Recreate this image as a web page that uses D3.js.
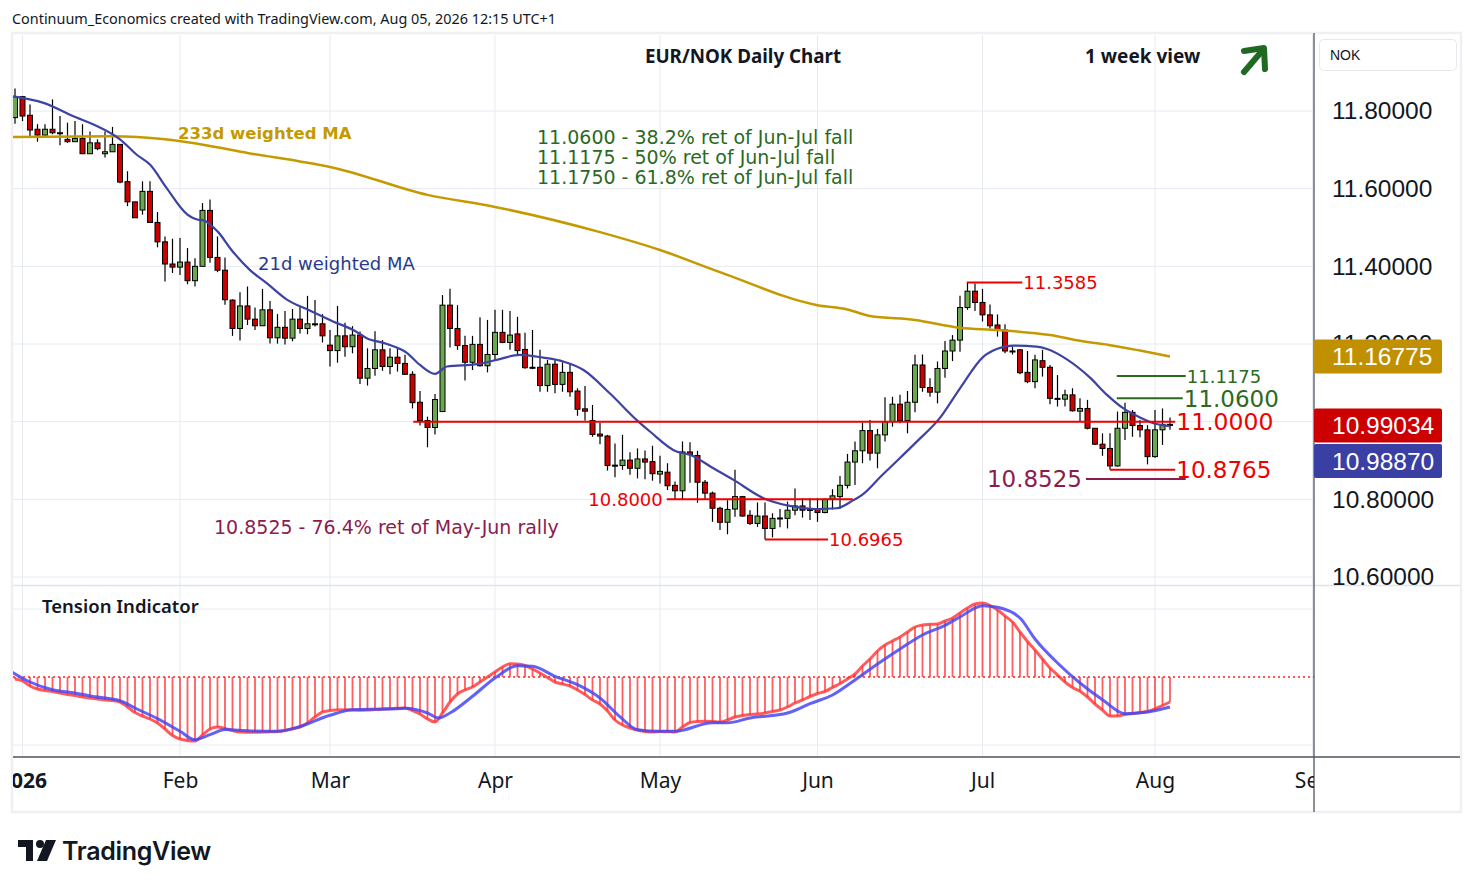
<!DOCTYPE html>
<html>
<head>
<meta charset="utf-8">
<script src="https://cdn.jsdelivr.net/npm/d3@7"></script>
<style>
  body { margin: 0; background: #fff; }
  svg { display: block; }
</style>
</head>
<body>
<svg id="chart" width="1474" height="887"></svg>
<script>
// ---- data (bar index 0 = 31 Dec 2025, last = 05 Aug 2026) ----
const opens = [11.783,11.837,11.789,11.753,11.738,11.753,11.744,11.727,11.721,11.729,
  11.690,11.718,11.690,11.695,11.714,11.618,11.566,11.545,11.593,11.513,
  11.463,11.406,11.398,11.411,11.363,11.400,11.544,11.423,11.390,11.313,
  11.240,11.298,11.264,11.247,11.288,11.216,11.243,11.215,11.264,11.240,
  11.251,11.252,11.197,11.183,11.221,11.193,11.223,11.112,11.137,11.185,
  11.142,11.166,11.150,11.122,11.050,11.003,10.985,11.026,11.300,11.240,
  11.196,11.153,11.199,11.144,11.173,11.230,11.204,11.226,11.186,11.140,
  11.140,11.093,11.148,11.096,11.127,11.079,11.033,11.003,10.968,10.963,
  10.888,10.887,10.901,10.880,10.904,10.897,10.865,10.870,10.836,10.822,
  10.922,10.913,10.844,10.816,10.777,10.741,10.775,10.807,10.759,10.738,
  10.757,10.725,10.751,10.751,10.772,10.783,10.774,10.775,10.766,10.800,
  10.807,10.836,10.896,10.925,10.977,10.919,10.966,11.000,11.045,11.003,
  11.050,11.146,11.088,11.076,11.137,11.182,11.210,11.294,11.336,11.307,
  11.275,11.249,11.236,11.182,11.185,11.127,11.103,11.157,11.140,11.060,
  11.058,11.069,11.027,11.034,10.983,10.942,10.931,10.886,10.983,11.024,
  10.990,10.979,10.910,10.979,10.993];
const highs = [11.858,11.839,11.817,11.766,11.766,11.830,11.787,11.770,11.774,11.766,
  11.747,11.727,11.747,11.759,11.714,11.645,11.566,11.619,11.619,11.540,
  11.477,11.471,11.473,11.447,11.421,11.563,11.572,11.477,11.423,11.315,
  11.333,11.348,11.294,11.342,11.311,11.277,11.285,11.290,11.296,11.324,
  11.313,11.277,11.236,11.298,11.255,11.246,11.232,11.189,11.233,11.210,
  11.189,11.191,11.172,11.130,11.079,11.013,11.071,11.326,11.342,11.300,
  11.221,11.221,11.269,11.262,11.288,11.288,11.285,11.270,11.229,11.236,
  11.185,11.159,11.159,11.153,11.150,11.086,11.092,11.043,10.997,10.966,
  10.944,10.966,10.921,10.931,10.926,10.938,10.912,10.893,10.846,10.949,
  10.947,10.925,10.850,10.820,10.781,10.798,10.876,10.809,10.772,10.792,
  10.792,10.764,10.775,10.794,10.828,10.803,10.803,10.803,10.802,10.826,
  10.860,10.917,10.949,10.998,11.004,10.981,11.063,11.064,11.069,11.079,
  11.172,11.173,11.112,11.155,11.208,11.223,11.324,11.3585,11.356,11.342,
  11.302,11.276,11.251,11.193,11.187,11.182,11.172,11.185,11.146,11.120,
  11.082,11.086,11.060,11.056,10.983,10.970,10.970,11.026,11.049,11.030,
  11.004,10.991,11.030,11.034,11.011];
const lows = [11.767,11.774,11.735,11.721,11.735,11.740,11.712,11.718,11.721,11.690,
  11.690,11.699,11.680,11.695,11.614,11.555,11.525,11.533,11.513,11.449,
  11.361,11.383,11.378,11.354,11.348,11.400,11.409,11.385,11.301,11.221,
  11.209,11.249,11.236,11.247,11.201,11.201,11.199,11.207,11.227,11.225,
  11.245,11.204,11.142,11.152,11.167,11.176,11.097,11.093,11.118,11.131,
  11.122,11.129,11.120,11.034,10.990,10.934,10.967,11.026,11.191,11.185,
  11.106,11.133,11.142,11.127,11.159,11.202,11.185,11.172,11.136,11.135,
  11.077,11.077,11.073,11.077,11.064,11.015,11.003,10.961,10.942,10.874,
  10.857,10.876,10.863,10.854,10.852,10.848,10.841,10.824,10.798,10.798,
  10.843,10.791,10.798,10.742,10.721,10.710,10.755,10.755,10.734,10.729,
  10.6965,10.702,10.728,10.725,10.759,10.753,10.747,10.742,10.764,10.774,
  10.776,10.828,10.837,10.893,10.900,10.880,10.949,10.987,10.996,10.970,
  11.024,11.077,11.064,11.047,11.113,11.156,11.180,11.288,11.285,11.258,
  11.240,11.219,11.176,11.173,11.122,11.099,11.086,11.116,11.045,11.039,
  11.039,11.026,11.000,10.980,10.940,10.912,10.8765,10.884,10.953,10.961,
  10.960,10.890,10.907,10.940,10.979];
const closes = [11.837,11.787,11.751,11.738,11.753,11.744,11.742,11.721,11.729,11.690,
  11.718,11.703,11.695,11.714,11.617,11.566,11.525,11.593,11.513,11.463,
  11.406,11.398,11.411,11.363,11.400,11.544,11.423,11.390,11.314,11.240,
  11.298,11.264,11.247,11.288,11.216,11.243,11.215,11.264,11.240,11.252,
  11.252,11.221,11.183,11.221,11.193,11.223,11.112,11.137,11.185,11.142,
  11.166,11.150,11.122,11.049,11.003,10.985,11.057,11.300,11.240,11.196,
  11.153,11.199,11.144,11.173,11.230,11.204,11.223,11.183,11.139,11.139,
  11.093,11.148,11.096,11.127,11.077,11.032,11.027,10.967,10.963,10.887,
  10.887,10.901,10.880,10.904,10.896,10.866,10.872,10.835,10.822,10.922,
  10.915,10.844,10.816,10.777,10.741,10.774,10.807,10.757,10.738,10.757,
  10.725,10.751,10.752,10.772,10.783,10.772,10.773,10.766,10.800,10.809,
  10.836,10.896,10.925,10.977,10.919,10.966,11.000,11.045,11.003,11.050,
  11.146,11.088,11.076,11.137,11.182,11.210,11.294,11.336,11.307,11.275,
  11.247,11.236,11.182,11.181,11.126,11.103,11.159,11.140,11.060,11.059,
  11.069,11.028,11.034,10.983,10.942,10.931,10.886,10.983,11.024,10.990,
  10.979,10.910,10.979,10.993,10.99034];

// 21d weighted MA, read at bar positions
const wma21Idx = [-0.4,3.8,8.2,10.4,13,14,16.2,18,20.2,23,24.4,25,27,29,31.3,33.6,36.2,39.3,42.4,45.1,46.9,
  49.6,52.2,54,56,57.6,61.6,64.2,67.3,70.4,73.1,75.8,79.3,82.9,84.7,88.2,90,93.1,95.8,99.8,103.3,
  106.9,109.6,111.8,113,115.5,120.2,123.3,126,129.1,130.9,133.1,136.2,137.6,140.2,143.3,145.6,147.8,150,152.2,154];
const wma21Val = [11.838,11.821,11.783,11.766,11.740,11.727,11.688,11.662,11.602,11.533,11.520,11.519,11.490,11.439,11.391,11.356,11.315,11.286,11.258,11.236,11.215,
  11.200,11.178,11.146,11.123,11.142,11.148,11.159,11.172,11.165,11.155,11.133,11.073,11.004,10.974,10.923,10.915,10.880,10.850,10.803,10.783,
  10.775,10.777,10.798,10.812,10.860,10.948,11.009,11.086,11.167,11.187,11.196,11.193,11.187,11.161,11.114,11.069,11.034,11.011,10.994,10.9887];
// 233d weighted MA
const wma233Idx = [-0.5,13,20,26,31,38,42,55,64,78,86,94,107,111,114,120,126,131,138,143,146,150,154];
const wma233Val = [11.733,11.735,11.727,11.710,11.692,11.670,11.656,11.584,11.553,11.488,11.442,11.385,11.300,11.289,11.272,11.262,11.242,11.236,11.223,11.205,11.197,11.183,11.16775];

// Tension indicator (one value per bar) and its signal line
const tension = [-2,-4,-9,-12,-13.5,-14.5,-16,-17.5,-18.5,-20,
  -21,-22,-23,-23.5,-25,-30,-35.5,-39,-42,-46,
  -52,-58.5,-62,-63.5,-64,-58,-52,-50,-51.5,-53.5,
  -55,-55.2,-55.3,-55,-54.8,-54.5,-53.5,-52,-50,-46,
  -40,-35,-33.5,-33,-32.7,-33,-33.3,-33,-32.5,-32,
  -31.5,-31.2,-31,-33.5,-37,-42,-45,-36,-25,-17,
  -13,-10,-5,0,5,10,13.3,13,11.5,8,
  4,-0.5,-5,-7,-9,-13,-17.5,-23,-27,-34,
  -43,-48,-51,-53,-54.5,-55,-54.5,-54.7,-55,-50,
  -45.5,-44.5,-44.3,-44.5,-45,-43,-40,-38.5,-37.5,-37,
  -36,-34.5,-33,-30,-26,-23,-19.5,-16.5,-14.5,-10.5,
  -6.5,-2,3,11,18,26,32,36,40,45,
  50,52,52.7,53,56,59,64,69,73,74,
  71.5,67,61,55,45,35.5,27,18,9,2,
  -5,-10.5,-14.3,-20,-27,-33,-39,-39,-37.5,-36.5,
  -35.5,-34.5,-32,-28.5,-25];
const signalIdx = [-0.7,2,5,8,10,14,16,19,22,24,26,28,31,35,38,42,45,50,52,55,56.5,58,61,64,67,69,72,75,78,80.6,
  83,86,88,93,95,98,103,106,109,112,115,118,121,124,126,129,131,134,136,139,142,145,148,151,154];
const signalVal = [6.3,-5,-12.7,-16,-19,-23.7,-31,-41.7,-54.3,-62.7,-57.7,-52.5,-53.7,-54.3,-49.5,-38.3,-32.7,-32,-31.3,-36,-41,-36,-19.3,-1,11.3,10.7,0.7,-7.7,-21,-39.3,
  -52.7,-54.3,-54.3,-45.7,-45.7,-41,-36,-26.7,-18,-3,13,28,42,51.7,60,71.3,69.7,59,38,14,-6,-22.7,-36.7,-35,-30];

// axis ticks
const priceTicks = [10.6, 10.8, 11.0, 11.2, 11.4, 11.6, 11.8];
const monthLabels = ['2026', 'Feb', 'Mar', 'Apr', 'May', 'Jun', 'Jul', 'Aug', 'Sep'];
const monthIdx = [1, 22, 42, 64, 86, 107, 129, 152, 173];

// horizontal level annotations
const levelValues = [11.3585, 11.1175, 11.0600, 11.0000, 10.8765, 10.8525, 10.8000, 10.6965];
const levelLabels = ['11.3585', '11.1175', '11.0600', '11.0000', '10.8765', '10.8525', '10.8000', '10.6965'];

const lastMa21 = 10.98870, lastMa233 = 11.16775;

// ---- drawing ----
const svg = d3.select('#chart');
const FONT = '"Noto Sans", "Open Sans", sans-serif';
const NOTEFONT = '"DejaVu Sans", "Noto Sans", sans-serif';
const AXISFONT = '"Liberation Sans", Arial, sans-serif';
const GRID = '#e6ebf2';

svg.append('rect').attr('width', 1474).attr('height', 887).attr('fill', '#fff');

const x = d3.scaleLinear().domain([0, 154]).range([15, 1170]);
const y = d3.scaleLinear().domain([10.6, 11.8]).range([577, 111]);
const yt = d3.scaleLinear().domain([-70, 80]).range([747, 597]);

const defs = svg.append('defs');
defs.append('clipPath').attr('id', 'clipMain').append('rect')
  .attr('x', 13).attr('y', 35).attr('width', 1301).attr('height', 550);
defs.append('clipPath').attr('id', 'clipLow').append('rect')
  .attr('x', 13).attr('y', 586).attr('width', 1301).attr('height', 170);
defs.append('clipPath').attr('id', 'clipTime').append('rect')
  .attr('x', 13).attr('y', 757).attr('width', 1301).attr('height', 54);

// header
svg.append('text').attr('x', 12).attr('y', 24)
  .style('font', `14.4px ${FONT}`).attr('fill', '#131722')
  .text('Continuum_Economics created with TradingView.com, Aug 05, 2026 12:15 UTC+1');

// frame
svg.append('rect').attr('x', 12).attr('y', 33).attr('width', 1449).attr('height', 779)
  .attr('fill', 'none').attr('stroke', '#eef0f4').attr('stroke-width', 2.5);

// gridlines
const grid = svg.append('g');
grid.selectAll('line.h').data(priceTicks).join('line')
  .attr('x1', 13).attr('x2', 1314).attr('y1', d => y(d)).attr('y2', d => y(d))
  .attr('stroke', GRID).attr('stroke-width', 1);
grid.selectAll('line.t').data([-68, 68]).join('line')
  .attr('x1', 13).attr('x2', 1314).attr('y1', d => yt(d)).attr('y2', d => yt(d))
  .attr('stroke', GRID).attr('stroke-width', 1);
grid.selectAll('line.v').data(monthIdx.filter(d => x(d) < 1314)).join('line')
  .attr('x1', d => x(d)).attr('x2', d => x(d)).attr('y1', 35).attr('y2', 757)
  .attr('stroke', GRID).attr('stroke-width', 1);
// pane separator
svg.append('line').attr('x1', 13).attr('x2', 1460).attr('y1', 585.5).attr('y2', 585.5)
  .attr('stroke', '#e0e3eb').attr('stroke-width', 1.5);

// titles
svg.append('text').attr('x', 743).attr('y', 63).attr('text-anchor', 'middle')
  .style('font', `bold 18.8px ${FONT}`).attr('fill', '#131722').text('EUR/NOK Daily Chart');
svg.append('text').attr('x', 1085).attr('y', 63)
  .style('font', `bold 19px ${FONT}`).attr('fill', '#131722').text('1 week view');
// trend arrow
const arrow = svg.append('g').attr('stroke', '#1e6a23').attr('stroke-width', 6)
  .attr('fill', 'none').attr('stroke-linecap', 'round').attr('stroke-linejoin', 'round');
arrow.append('line').attr('x1', 1244).attr('y1', 72).attr('x2', 1262).attr('y2', 51);
arrow.append('polyline').attr('points', '1244,51 1264,48 1265,69');

// main pane
const main = svg.append('g').attr('clip-path', 'url(#clipMain)');
const bars = d3.range(opens.length).map(i => ({ i, o: opens[i], h: highs[i], l: lows[i], c: closes[i] }));

main.append('g').selectAll('line').data(bars).join('line')
  .attr('x1', d => x(d.i)).attr('x2', d => x(d.i))
  .attr('y1', d => y(d.h)).attr('y2', d => y(d.l))
  .attr('stroke', '#000').attr('stroke-width', 1.2);
main.append('g').selectAll('rect').data(bars).join('rect')
  .attr('x', d => x(d.i) - 2.5).attr('width', 5)
  .attr('y', d => y(Math.max(d.o, d.c)))
  .attr('height', d => Math.max(1, Math.abs(y(d.o) - y(d.c))))
  .attr('fill', d => d.c >= d.o ? '#6aa84f' : '#cc0000')
  .attr('stroke', '#000').attr('stroke-width', 1);

const maLine = d3.line().x(d => x(d[0])).y(d => y(d[1])).curve(d3.curveMonotoneX);
main.append('path').datum(wma233Idx.map((d, k) => [d, wma233Val[k]]))
  .attr('d', maLine).attr('fill', 'none').attr('stroke', '#c49a00').attr('stroke-width', 2.5);
main.append('path').datum(wma21Idx.map((d, k) => [d, wma21Val[k]]))
  .attr('d', maLine).attr('fill', 'none').attr('stroke', '#3d42a3').attr('stroke-width', 2.2);

// level lines (bar-index spans) and their labels
const RED = '#ee0000', GREEN = '#2b6a1e', MAROON = '#8a1d4e';
const levelStyle = [
  { from: 126.9, to: 134.3, color: RED, size: 18, side: 'r' },
  { from: 146.9, to: 156.1, color: GREEN, size: 18, side: 'r' },
  { from: 146.9, to: 155.7, color: GREEN, size: 23, side: 'r' },
  { from: 53.1, to: 154.7, color: RED, size: 23.5, side: 'r' },
  { from: 146.0, to: 154.7, color: RED, size: 23, side: 'r' },
  { from: 142.8, to: 156.1, color: MAROON, size: 23, side: 'l' },
  { from: 86.9, to: 111.7, color: RED, size: 18, side: 'l' },
  { from: 100.0, to: 108.4, color: RED, size: 18, side: 'r' }
];
const lv = svg.append('g');
levelValues.forEach((v, k) => {
  const s = levelStyle[k];
  lv.append('line').attr('x1', x(s.from)).attr('x2', x(s.to))
    .attr('y1', y(v)).attr('y2', y(v)).attr('stroke', s.color).attr('stroke-width', 2);
  lv.append('text')
    .attr('x', s.side === 'r' ? x(s.to) + 1 : x(s.from) - 4)
    .attr('y', y(v)).attr('dy', '0.36em')
    .attr('text-anchor', s.side === 'r' ? 'start' : 'end')
    .style('font', `${s.size}px ${NOTEFONT}`).attr('fill', s.color)
    .text(levelLabels[k]);
});

// text notes
const notes = svg.append('g').style('font', `19px ${NOTEFONT}`);
notes.append('text').attr('x', 178).attr('y', 139).attr('fill', '#c49a00')
  .style('font', `bold 16.5px ${NOTEFONT}`).text('233d weighted MA');
notes.append('text').attr('x', 258).attr('y', 270).attr('fill', '#283a8c')
  .style('font', `18px ${NOTEFONT}`).text('21d weighted MA');
['11.0600 - 38.2% ret of Jun-Jul fall', '11.1175 - 50% ret of Jun-Jul fall', '11.1750 - 61.8% ret of Jun-Jul fall']
  .forEach((t, k) => notes.append('text').attr('x', 537).attr('y', 144 + k * 20).attr('fill', GREEN).text(t));
notes.append('text').attr('x', 214).attr('y', 534).attr('fill', MAROON)
  .text('10.8525 - 76.4% ret of May-Jun rally');

// tension pane
const low = svg.append('g').attr('clip-path', 'url(#clipLow)');
low.append('line').attr('x1', 13).attr('x2', 1314).attr('y1', yt(0)).attr('y2', yt(0))
  .attr('stroke', '#ff2020').attr('stroke-width', 1.5).attr('stroke-dasharray', '2,3');
low.append('g').selectAll('line').data(tension).join('line')
  .attr('x1', (d, i) => x(i)).attr('x2', (d, i) => x(i))
  .attr('y1', yt(0)).attr('y2', d => yt(d))
  .attr('stroke', 'rgba(255,40,40,0.75)').attr('stroke-width', 1.8);
low.append('path').datum(tension)
  .attr('d', d3.line().x((d, i) => x(i)).y(d => yt(d)).curve(d3.curveMonotoneX))
  .attr('fill', 'none').attr('stroke', 'rgba(255,50,50,0.8)').attr('stroke-width', 3);
low.append('path').datum(signalIdx.map((d, k) => [d, signalVal[k]]))
  .attr('d', d3.line().x(d => x(d[0])).y(d => yt(d[1])).curve(d3.curveMonotoneX))
  .attr('fill', 'none').attr('stroke', 'rgba(70,70,245,0.85)').attr('stroke-width', 3);
svg.append('text').attr('x', 42).attr('y', 613)
  .style('font', `600 18.5px ${FONT}`).attr('fill', '#131722').text('Tension Indicator');

// axes lines
svg.append('line').attr('x1', 1314).attr('x2', 1314).attr('y1', 33).attr('y2', 812)
  .attr('stroke', '#50535e').attr('stroke-width', 1.3);
svg.append('line').attr('x1', 13).attr('x2', 1460).attr('y1', 757).attr('y2', 757)
  .attr('stroke', '#50535e').attr('stroke-width', 1.3);

// price axis (11.00000 sits under the last-value tags, as in the original)
const yAxis = svg.append('g').attr('transform', 'translate(1314,0)')
  .call(d3.axisRight(y).tickValues(priceTicks.filter(d => d !== 11.0))
    .tickFormat(d3.format('.5f')).tickSize(0).tickPadding(18));
yAxis.select('.domain').remove();
yAxis.selectAll('text').style('font', `24.5px ${AXISFONT}`).attr('fill', '#131722');

// time axis
const xAxis = svg.append('g').attr('clip-path', 'url(#clipTime)')
  .append('g').attr('transform', 'translate(0,757)')
  .call(d3.axisBottom(x).tickValues(monthIdx).tickFormat((d, k) => monthLabels[k]).tickSize(0).tickPadding(16));
xAxis.select('.domain').remove();
xAxis.selectAll('text').style('font', `21px ${FONT}`).attr('fill', '#131722')
  .style('font-weight', (d, k) => k === 0 ? 'bold' : 'normal');

// currency box
svg.append('rect').attr('x', 1319.5).attr('y', 39.5).attr('width', 137).attr('height', 31).attr('rx', 4)
  .attr('fill', '#fff').attr('stroke', '#e6e8ee');
svg.append('text').attr('x', 1330).attr('y', 60).style('font', `14px ${AXISFONT}`)
  .attr('fill', '#131722').text('NOK');

// last-value labels
const tags = [
  { v: lastMa233, dy: 0, fill: '#c09000' },
  { v: closes[closes.length - 1], dy: 0, fill: '#cc0000' },
  { v: lastMa21, dy: 35, fill: '#3a3fa3' }
];
tags.forEach(t => {
  const cy = y(t.v) + t.dy;
  svg.append('rect').attr('x', 1314).attr('y', cy - 17).attr('width', 128).attr('height', 34)
    .attr('rx', 2).attr('fill', t.fill);
  svg.append('text').attr('x', 1332).attr('y', cy).attr('dy', '0.36em')
    .style('font', `24.5px ${AXISFONT}`).attr('fill', '#fff').text(d3.format('.5f')(t.v));
});

// TradingView logo
const logo = svg.append('g').attr('fill', '#131722');
logo.append('path').attr('d', 'M18,840 H33 V861 H26 V847 H18 Z');
logo.append('circle').attr('cx', 40).attr('cy', 844).attr('r', 4);
logo.append('path').attr('d', 'M46,840 H56 L47,861 H37 Z');
logo.append('text').attr('x', 62).attr('y', 860)
  .style('font', `600 25px Inter, ${FONT}`).attr('letter-spacing', '-0.3').text('TradingView');
</script>
</body>
</html>
